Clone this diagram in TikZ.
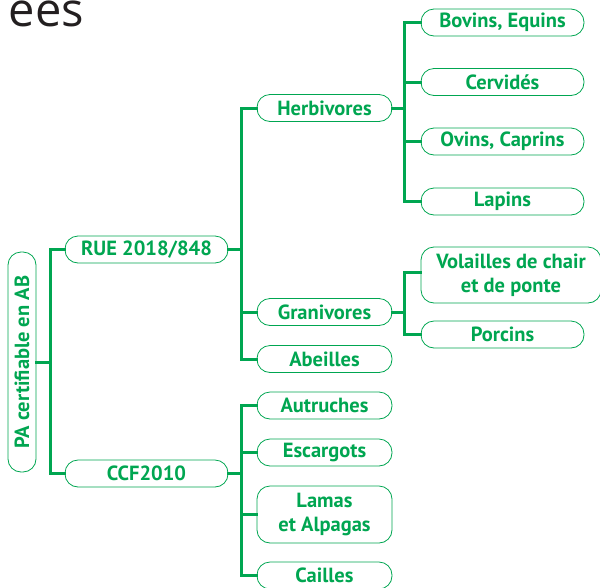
\documentclass[tikz,border=0pt]{standalone}
\usepackage{fontspec}
\setmainfont{PT Sans}
\newfontfamily\titlefont{Open Sans}
\definecolor{agreen}{HTML}{00A651}
\definecolor{titlegray}{HTML}{231F20}
\begin{document}
\begin{tikzpicture}[x=1pt,y=-1pt,
  box/.style={draw=agreen, line width=0.8pt, rounded corners=13pt, fill=white,
    text=agreen, font=\fontsize{20.5}{24}\selectfont\bfseries, minimum height=27pt,
    inner sep=0pt, align=center},
  wbox/.style={box, minimum width=163pt},
  mbox/.style={box, minimum width=135pt},
  conn/.style={draw=agreen, line width=3pt, line cap=rect}
]
\useasboundingbox (0,0) rectangle (600,587);
% title fragment
\node[anchor=base east, text=titlegray, font=\titlefont\fontsize{47}{50}\selectfont, inner sep=0pt] (title) at (84,26) {ées};

% root
\node[box, rotate=90, minimum width=220pt, minimum height=28pt] (root) at (22,362) {PA certifiable en AB};
% level 1
\node[wbox] (rue) at (146.5,249.5) {RUE 2018/848};
\node[wbox] (ccf) at (146.5,473.5) {CCF2010};
% level 2
\node[mbox] (herb) at (324.5,108) {Herbivores};
\node[mbox] (gran) at (324.5,312) {Granivores};
\node[mbox] (abe) at (324.5,359) {Abeilles};
\node[mbox] (aut) at (324.5,405.5) {Autruches};
\node[mbox] (esc) at (324.5,452.5) {Escargots};
\node[mbox, minimum height=57pt] (lam) at (324.5,514.5) {Lamas\\et Alpagas};
\node[mbox] (cai) at (324.5,575.5) {Cailles};
% level 3
\node[wbox] (bov) at (502.5,22.5) {Bovins, Equins};
\node[wbox] (cer) at (502.5,82) {Cervidés};
\node[wbox] (ovi) at (502.5,141.5) {Ovins, Caprins};
\node[wbox] (lap) at (502.5,201.5) {Lapins};
\node[wbox, minimum width=180pt, minimum height=56pt] (vol) at (511,275) {Volailles de chair\\et de ponte};
\node[wbox] (por) at (502.5,334.5) {Porcins};

% trunks
\coordinate (t1) at (50,0);
\coordinate (t2) at (241,0);
\coordinate (t3) at (404,0);

\draw[conn] (root.south) -- (t1 |- root.south);
\draw[conn] (rue.west) -- (t1 |- rue.west) -- (t1 |- ccf.west) -- (ccf.west);

\draw[conn] (rue.east) -- (t2 |- rue.east);
\draw[conn] (herb.west) -- (t2 |- herb.west) -- (t2 |- abe.west) -- (abe.west);
\draw[conn] (gran.west) -- (t2 |- gran.west);

\draw[conn] (ccf.east) -- (t2 |- ccf.east);
\draw[conn] (aut.west) -- (t2 |- aut.west) -- (t2 |- cai.west) -- (cai.west);
\draw[conn] (esc.west) -- (t2 |- esc.west);
\draw[conn] (lam.west) -- (t2 |- lam.west);

\draw[conn] (herb.east) -- (t3 |- herb.east);
\draw[conn] (bov.west) -- (t3 |- bov.west) -- (t3 |- lap.west) -- (lap.west);
\draw[conn] (cer.west) -- (t3 |- cer.west);
\draw[conn] (ovi.west) -- (t3 |- ovi.west);

\draw[conn] (gran.east) -- (t3 |- gran.east);
\coordinate (volin) at ([yshift=3pt]vol.west);
\draw[conn] (volin) -- (t3 |- volin) -- (t3 |- por.west) -- (por.west);
\end{tikzpicture}
\end{document}
